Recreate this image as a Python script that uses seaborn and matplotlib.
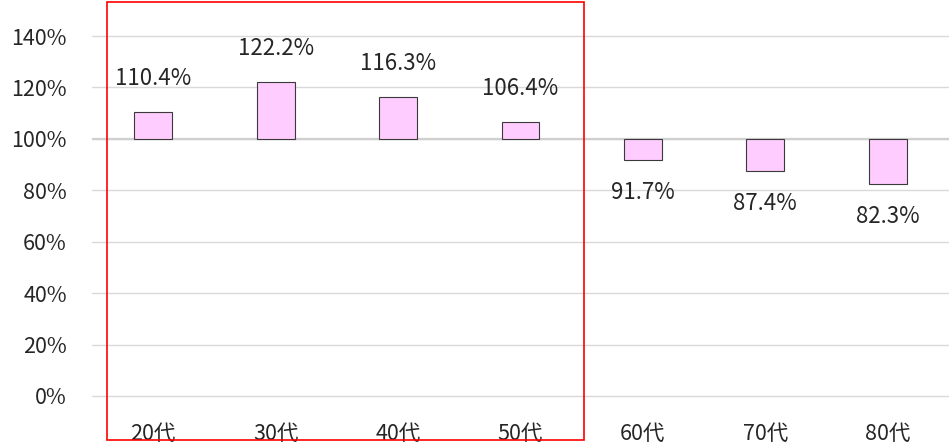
#!/usr/bin/env python3
"""
Age-group ratio chart: bars drawn from a 100% baseline.
"""
import matplotlib
matplotlib.use('Agg')
import matplotlib.pyplot as plt
from matplotlib.patches import Rectangle
from matplotlib.ticker import PercentFormatter
import pandas as pd
import seaborn as sns

# Data
age_groups = ['20代', '30代', '40代', '50代', '60代', '70代', '80代']
ratios = [1.104, 1.222, 1.163, 1.064, 0.917, 0.874, 0.823]
baseline = 1.0
y_ticks = [0.0, 0.2, 0.4, 0.6, 0.8, 1.0, 1.2, 1.4]

df = pd.DataFrame({'age': age_groups, 'ratio': ratios})
df['delta'] = df['ratio'] - baseline

sns.set_style('white')
plt.rcParams['font.family'] = ['Noto Sans CJK JP', 'DejaVu Sans']
TEXT = '#262626'

W, H = 949, 443
PX_PER_UNIT = 257.0  # 20% step is ~51.4 px
fig = plt.figure(figsize=(W / 100, H / 100), dpi=100)
# axes: left at x=92px, bottom a bit under the 0% line (y=396px), top at y=2px
ax_bottom_px = 410
ax = fig.add_axes([92 / W, (H - ax_bottom_px) / H, (W - 92) / W, (ax_bottom_px - 2) / H])

sns.barplot(data=df, x='age', y='delta', bottom=baseline, width=0.31,
            color='#FFCCFF', edgecolor='#3a3a3a', linewidth=0.8,
            saturation=1, ax=ax, zorder=3)

y_lo = -(ax_bottom_px - 396) / PX_PER_UNIT
y_hi = 1.4 + (36 - 2) / PX_PER_UNIT
ax.set_ylim(y_lo, y_hi)
ax.set_xlim(-0.5, len(age_groups) - 0.5)
ax.set_yticks(y_ticks)
ax.yaxis.set_major_formatter(PercentFormatter(1.0, decimals=0))
ax.grid(axis='y', color='#d9d9d9', linewidth=1, zorder=0)
ax.axhline(baseline, color='#cfcfcf', linewidth=1.6, zorder=1)
ax.set_xlabel('')
ax.set_ylabel('')
sns.despine(ax=ax, left=True, bottom=True)
ax.tick_params(axis='both', length=0, labelsize=15.5, colors=TEXT)
ax.tick_params(axis='y', pad=18)
ax.tick_params(axis='x', pad=9)

# data labels
for i, r in enumerate(ratios):
    if r >= baseline:
        ax.annotate(f'{r * 100:.1f}%', (i, r), xytext=(0, 16),
                    textcoords='offset points', ha='center', va='bottom',
                    fontsize=16, color=TEXT)
    else:
        ax.annotate(f'{r * 100:.1f}%', (i, r), xytext=(0, -15),
                    textcoords='offset points', ha='center', va='top',
                    fontsize=16, color=TEXT)

# red frame around 20代–50代
ax.add_patch(Rectangle((-0.376, -0.171), 3.896, 1.703, fill=False,
                       edgecolor='#ff0000', linewidth=1.2, clip_on=False,
                       zorder=5))

fig.savefig('out.png', dpi=100)
plt.close('all')
